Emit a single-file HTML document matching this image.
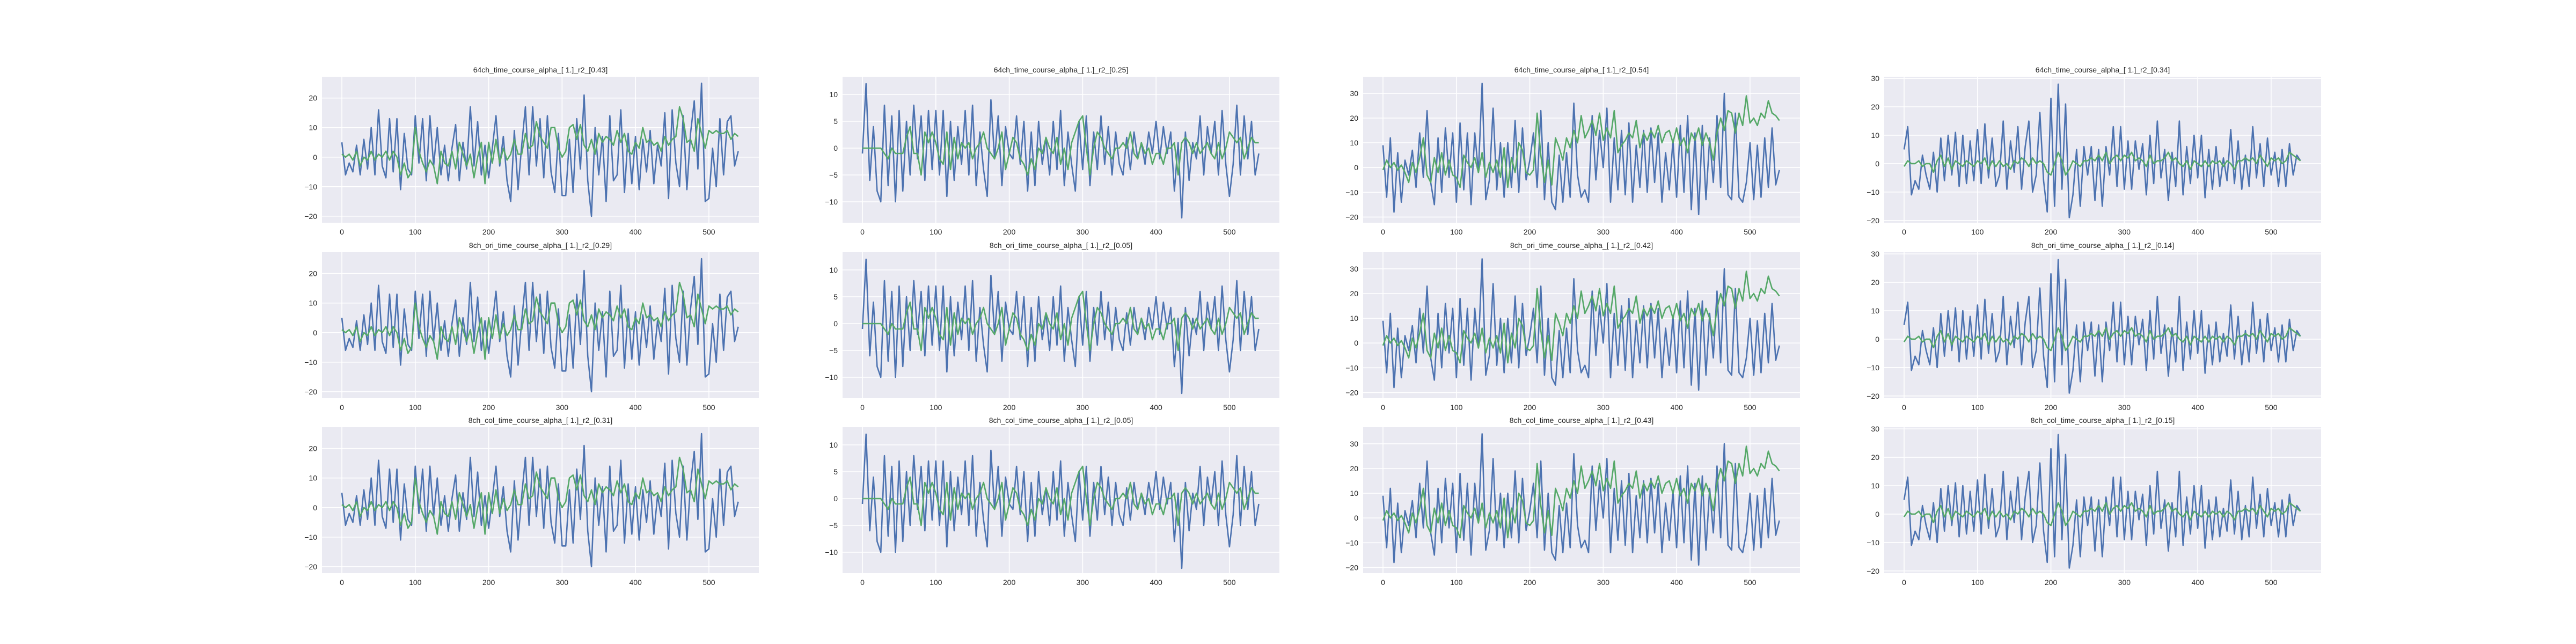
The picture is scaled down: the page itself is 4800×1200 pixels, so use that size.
<!DOCTYPE html>
<html><head><meta charset="utf-8"><style>
html,body{margin:0;padding:0;background:#fff;}
svg{display:block;font-family:"Liberation Sans",sans-serif;}
</style></head><body>
<svg id="fig" width="4800" height="1200" viewBox="0 0 4800 1200" xmlns="http://www.w3.org/2000/svg"></svg>
<script>
const titlesRow1 = ["64ch_time_course_alpha_[ 1.]_r2_[0.43]","64ch_time_course_alpha_[ 1.]_r2_[0.25]","64ch_time_course_alpha_[ 1.]_r2_[0.54]","64ch_time_course_alpha_[ 1.]_r2_[0.34]"];
const titlesRow2 = ["8ch_ori_time_course_alpha_[ 1.]_r2_[0.29]","8ch_ori_time_course_alpha_[ 1.]_r2_[0.05]","8ch_ori_time_course_alpha_[ 1.]_r2_[0.42]","8ch_ori_time_course_alpha_[ 1.]_r2_[0.14]"];
const titlesRow3 = ["8ch_col_time_course_alpha_[ 1.]_r2_[0.31]","8ch_col_time_course_alpha_[ 1.]_r2_[0.05]","8ch_col_time_course_alpha_[ 1.]_r2_[0.43]","8ch_col_time_course_alpha_[ 1.]_r2_[0.15]"];
const xTicks = [0,100,200,300,400,500];
const yTicksC1 = [-20,-10,0,10,20];
const yTicksC2 = [-10,-5,0,5,10];
const yTicksC3 = [-20,-10,0,10,20,30];
const yTicksC4 = [-20,-10,0,10,20,30];
const sampleStep = 5;
const blueC1 = [5,-6,-2,-5,4,-6,6,-4,10,-6,16,
-3,-7,13,-5,13,-11,8,-4,-6,14,
-2,13,-8,14,-3,10,-6,4,-8,3,
11,-8,5,-4,17,-3,12,-6,4,-7,
3,14,-3,7,-8,-15,9,-11,4,17,
-6,17,-3,13,-7,14,-5,-12,8,-13,
-13,6,-12,13,-4,21,-8,-20,10,-6,
7,-15,14,-8,-6,16,-12,8,-9,7,
-11,6,-5,9,-9,4,-3,15,-14,16,
-2,-10,14,-11,8,19,-4,25,-15,-14,
3,-10,13,-6,12,14,-3,2];
const greenC1 = [1,0,1,-1,2,-3,0,-1,2,-1,1,
0,2,-1,2,0,-6,-2,-7,-5,10,
2,-2,-5,-1,-3,-9,2,-2,-3,2,
-4,5,1,-3,1,-7,0,5,-9,5,
-2,6,-2,3,-1,1,6,1,1,8,
3,4,12,7,5,3,10,10,3,0,
2,10,11,6,11,4,2,6,1,8,
5,7,6,4,9,5,8,2,1,5,
3,10,5,6,4,5,2,7,4,6,
7,17,13,5,6,2,13,8,3,9,
8,9,8,8,9,6,8,7];
const blueC2 = [-1,12,-6,4,-8,-10,8,-7,6,-10,7,
-8,5,-5,8,-2,6,-6,7,-4,7,
-5,7,-9,5,-6,4,-3,7,-5,8,
-7,3,-4,-9,9,-2,6,-7,4,-1,
-2,6,-3,5,-8,3,-7,5,-3,2,
-5,5,-4,7,-7,3,-3,-8,5,-4,
6,-7,3,-4,6,-3,4,-5,3,-3,
-5,2,-4,3,-2,1,-3,3,-1,5,
-2,4,-1,3,-8,1,-13,3,-6,1,
-2,6,-5,4,-1,5,-5,7,-3,-9,
-3,8,-5,6,-2,5,-5,-1];
const greenC2 = [0,0,0,0,0,0,-1,-2,0,-1,-1,
-1,2,4,-1,-1,-5,3,1,3,1,
-2,-3,3,-4,2,-2,1,0,1,-2,
0,1,3,0,-1,-2,0,3,-4,-1,
2,1,-2,-3,-5,-2,-4,0,-1,2,
0,-1,2,-3,0,-4,1,3,5,6,
0,-5,0,3,2,0,-1,-2,0,0,
1,0,3,-1,-2,1,-1,0,-3,-1,
-1,-3,0,0,1,-5,1,2,1,-1,
1,-1,0,1,-1,-2,1,-2,0,3,
2,1,2,-2,0,2,1,1];
const blueC3 = [9,-12,12,-18,6,-14,3,-3,7,-8,14,
-4,23,-6,-15,12,-10,16,-4,14,-14,
18,-9,14,-15,14,-2,34,-13,-5,24,
-9,10,-12,10,-8,19,-10,16,-5,3,
14,-8,23,-13,10,-14,-17,5,-14,6,
-12,26,-3,-12,-9,-14,21,-5,15,0,
24,-14,12,-9,15,-11,18,-14,9,-8,
15,-10,16,-6,14,-14,6,-9,11,-12,
17,-10,21,-17,14,-19,17,-13,12,-6,
21,-8,30,-11,-13,22,-12,-14,-6,10,
-13,9,-12,12,-8,16,-7,-1];
const greenC3 = [-1,3,0,2,-1,1,-2,-6,2,-2,4,
12,-3,-6,4,-2,6,-3,3,-3,-4,
-8,5,2,0,4,-2,6,-4,2,-2,
3,-4,8,-8,4,-2,10,7,-2,-3,
-1,22,5,-6,3,-7,12,8,3,12,
8,15,10,21,12,15,19,13,22,11,
16,12,23,6,9,11,14,12,19,8,
14,11,15,12,17,10,14,15,10,16,
9,12,6,14,11,16,9,14,10,3,
14,20,15,23,22,14,22,17,29,18,
20,17,22,20,27,22,21,19];
const blueC4 = [5,13,-11,-6,-9,3,-4,-9,4,-10,9,
-6,10,-4,11,-8,10,-7,8,-6,12,
-7,14,-5,9,-8,-4,15,-9,8,-3,
13,-9,6,15,-10,-4,18,-6,-17,23,
-15,28,-9,21,-19,-11,5,-15,6,-4,
6,-13,5,-15,6,-4,13,-8,13,-9,
8,-9,8,-2,7,-11,10,-7,15,-5,
5,-13,4,-8,15,-11,6,-7,10,-5,
10,-12,5,-9,6,-8,2,-6,12,-7,
8,-9,3,-8,13,-5,7,-8,9,-4,
4,-8,5,-8,7,-4,3,1];
const greenC4 = [-1,1,0,0,1,-1,0,0,-3,1,3,
-1,2,-2,1,0,-1,1,0,-1,1,
0,2,-2,1,-1,1,-1,0,-2,1,
0,2,1,-1,2,0,1,0,-3,-4,
0,4,1,-4,-2,1,0,-1,1,1,
2,1,3,1,4,0,2,3,1,3,
2,4,1,2,1,-1,3,0,1,1,
2,4,1,2,0,-1,1,-2,1,0,
-1,1,-1,1,0,1,-1,1,0,-2,
1,1,2,1,2,0,3,1,-1,2,
1,2,0,1,4,3,2,1];

const NS="http://www.w3.org/2000/svg";
const svg=document.getElementById('fig');
function mk(tag,attrs,parent){const e=document.createElementNS(NS,tag);for(const k in attrs)e.setAttribute(k,attrs[k]);(parent||svg).appendChild(e);return e;}

const colLeft=[600,1570,2540,3511], axW=814;
const rowTop=[143,470,796], axH=272;
const yDom=[[-22.2,27.2],[-13.9,13.3],[-22.3,36.7],[-20.8,30.6]];
const xDom=[-27.05,568.05];
const yTicksAll=[yTicksC1,yTicksC2,yTicksC3,yTicksC4];
const blues=[blueC1,blueC2,blueC3,blueC4];
const greens=[greenC1,greenC2,greenC3,greenC4];
const titles=[titlesRow1,titlesRow2,titlesRow3];

for(let r=0;r<3;r++){for(let c=0;c<4;c++){
  const L=colLeft[c],T=rowTop[r];
  const xs=v=>L+(v-xDom[0])/(xDom[1]-xDom[0])*axW;
  const ys=v=>T+axH-(v-yDom[c][0])/(yDom[c][1]-yDom[c][0])*axH;
  const g=mk('g',{});
  
  
  const bg=mk('rect',{x:L,y:T,width:axW,height:axH,fill:'#EAEAF2'},g);
  
  
  xTicks.forEach(t=>{
    const x=xs(t);
    const gl=mk('line',{x1:x,x2:x,y1:T,y2:T+axH,stroke:'#fff','stroke-width':1.6},g);
    
    
    const tl=mk('text',{x:x,y:T+axH+22,'text-anchor':'middle','font-size':14,fill:'#262626'},g);
    tl.textContent=t;
    
    
  });
  yTicksAll[c].forEach(t=>{
    const y=ys(t);
    const gl=mk('line',{x1:L,x2:L+axW,y1:y,y2:y,stroke:'#fff','stroke-width':1.6},g);
    
    
    const tl=mk('text',{x:L-9,y:y+5,'text-anchor':'end','font-size':14,fill:'#262626'},g);
    tl.textContent=t<0?'\u2212'+(-t):t;
    
    
  });
  const mkPath=(arr,color,name)=>{
    const d=arr.map((v,i)=>(i?'L':'M')+xs(i*sampleStep).toFixed(1)+','+ys(v).toFixed(1)).join('');
    const p=mk('path',{d:d,fill:'none',stroke:color,'stroke-width':2.6,'stroke-linejoin':'round'},g);
    
    
  };
  mkPath(blues[c],'#4C72B0','blue-series-line');
  mkPath(greens[c],'#55A868','green-series-line');
  const tt=mk('text',{x:L+axW/2,y:T-8,'text-anchor':'middle','font-size':14,fill:'#262626'},g);
  tt.textContent=titles[r][c];
  
  
}}
</script>
</body></html>
